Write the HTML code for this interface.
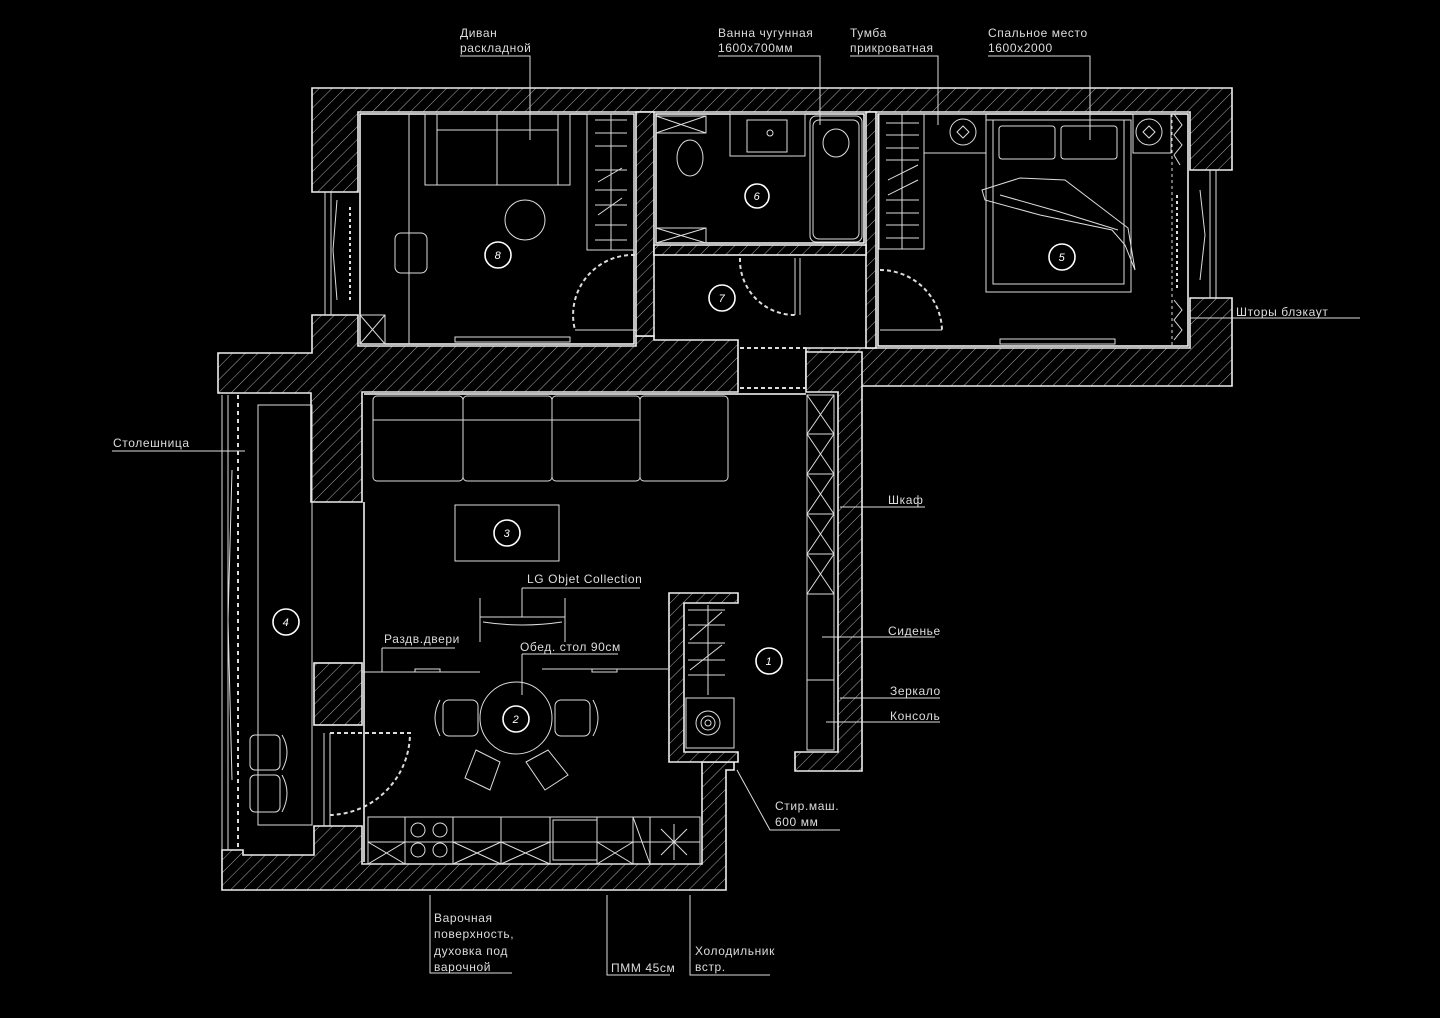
<!DOCTYPE html>
<html><head><meta charset="utf-8"><style>
html,body{margin:0;padding:0;background:#000;}
svg{display:block}
text{font-family:"Liberation Sans","DejaVu Sans",sans-serif;font-size:12px;fill:#ddd;letter-spacing:0.6px}
.n{font-size:11px;font-style:italic;fill:#fff;text-anchor:middle}
</style></head><body>
<svg width="1440" height="1018" viewBox="0 0 1440 1018" xmlns="http://www.w3.org/2000/svg">
<defs>
<pattern id="h" width="9" height="9" patternUnits="userSpaceOnUse" patternTransform="rotate(45)">
<rect width="9" height="9" fill="#000"/><line x1="0" y1="0" x2="0" y2="9" stroke="#aaa" stroke-width="1"/>
</pattern>
</defs>
<rect width="1440" height="1018" fill="#000"/>
<g fill="url(#h)" stroke="#eee" stroke-width="1.6">
<path d="M312,88 H1232 V170 H1190 V112 H358 V192 H312 Z"/>
<path d="M1190,298 H1232 V386 H806 V348 H1190 Z"/>
<path d="M312,315 H358 V346 H636 V336 H654 V340 H738 V392 H362 V502 H311 V393 H218 V353 H312 Z"/>
<rect x="636" y="112" width="18" height="224"/>
<rect x="866" y="112" width="10" height="236"/>
<rect x="654" y="245" width="212" height="10"/>
<path d="M806,352 H862 V771 H795 V752 H838 V392 H806 Z"/>
<rect x="314" y="663" width="48" height="62"/>
<path d="M222,850 H243 V855 H314 V826 H362 V864 H702 V762 H734 V770 H726 V890 H222 Z"/>
<path d="M669,593 H738 V603 H684 V752 H738 V762 H669 Z"/>
</g>
<g fill="none" stroke="#ddd" stroke-width="1">
<rect x="360" y="114" width="274" height="230" stroke="#fff" stroke-width="1.5"/>
<rect x="656" y="114" width="208" height="129" stroke="#fff" stroke-width="1.5"/>
<rect x="878" y="114" width="310" height="232" stroke="#fff" stroke-width="1.5"/>
<path d="M364,502 V862 M364,394 H806" stroke="#fff" stroke-width="1.5"/>
<path d="M325,192 V315 M331,192 V315 M337,200 L333,250 L337,300"/>
<path d="M350,207 V300" stroke-dasharray="3,3" stroke-width="2"/>
<path d="M1210,170 V298 M1216,170 V298 M1200,190 L1205,235 L1200,280"/>
<path d="M1177,195 V290" stroke-dasharray="3,3" stroke-width="2"/>
<path d="M222,395 V850 M228,395 V850 M232,470 L228,620 L232,780"/>
<path d="M238,395 V850" stroke-dasharray="4,4" stroke-width="2"/>
<line x1="409" y1="114" x2="409" y2="344"/>
<rect x="425" y="114" width="145" height="71"/>
<line x1="437" y1="130" x2="558" y2="130"/><line x1="437" y1="114" x2="437" y2="185"/><line x1="558" y1="114" x2="558" y2="185"/><line x1="497" y1="114" x2="497" y2="185"/>
<circle cx="525" cy="220" r="20"/>
<rect x="395" y="233" width="32" height="40" rx="6"/>
<rect x="587" y="114" width="47" height="136"/>
<path d="M595,120 H627 M595,133 H627 M595,146 H627 M595,170 H627 M595,190 H627 M595,205 H627 M595,225 H627 M595,240 H627 M598,182 L622,168 M598,215 L622,198 M611,114 V250"/>
<rect x="360" y="315" width="25" height="29"/><path d="M360,315 L385,344 M385,315 L360,344"/>
<rect x="455" y="337" width="115" height="5"/>
<path d="M635,255 A60,60 0 0,0 575,330" stroke-dasharray="4,3" stroke-width="2"/>
<path d="M575,330 H636"/>
<rect x="656" y="116" width="50" height="17"/><path d="M656,116 L706,133 M706,116 L656,133"/>
<rect x="656" y="228" width="50" height="15"/><path d="M656,228 L706,243 M706,228 L656,243"/>
<ellipse cx="690" cy="158" rx="13" ry="18"/>
<rect x="730" y="114" width="75" height="42"/><rect x="747" y="120" width="40" height="32"/><circle cx="770" cy="133" r="3"/>
<rect x="810" y="116" width="52" height="126" rx="6"/><rect x="813" y="120" width="46" height="119" rx="6"/>
<ellipse cx="836" cy="143" rx="13" ry="14"/>
<path d="M740,258 A55,55 0 0,0 795,315" stroke-dasharray="4,3" stroke-width="2"/>
<path d="M795,258 V315 M800,258 V315"/>
<path d="M654,258 V336" stroke-dasharray="3,3"/>
<path d="M740,348 H806 M740,388 H806" stroke-dasharray="4,3" stroke-width="2"/>
<rect x="879" y="114" width="45" height="135"/>
<path d="M886,123 H919 M886,135 H919 M886,148 H919 M886,160 H919 M886,200 H919 M886,213 H919 M886,225 H919 M886,238 H919 M888,180 L918,165 M888,195 L918,180 M902,114 V249"/>
<rect x="924" y="114" width="62" height="39"/><circle cx="963" cy="132" r="13"/><path d="M963,126 L969,132 L963,138 L957,132 Z"/>
<rect x="1133" y="114" width="38" height="39"/><circle cx="1149" cy="132" r="13"/><path d="M1149,126 L1155,132 L1149,138 L1143,132 Z"/>
<rect x="986" y="120" width="145" height="172"/><rect x="993" y="120" width="131" height="164"/>
<rect x="999" y="126" width="56" height="33" rx="3"/><rect x="1061" y="126" width="56" height="33" rx="3"/>
<path d="M982,190 L1020,178 L1065,180 L1128,228 L1135,270 L1125,245 L1112,230 L1040,215 L985,200 Z"/>
<path d="M1000,195 L1060,212 L1118,230"/>
<path d="M1174,114 L1182,125 L1174,135 L1182,145 L1174,155 L1180,165 M1174,300 L1182,310 L1174,320 L1182,330 L1174,340"/>
<path d="M1172,114 V346" stroke-dasharray="3,3"/>
<rect x="1000" y="339" width="115" height="5"/>
<path d="M880,270 A62,62 0 0,1 942,330" stroke-dasharray="4,3" stroke-width="2"/><path d="M880,330 H942"/>
<rect x="373" y="396" width="90" height="85" rx="4"/><rect x="463" y="396" width="89" height="85" rx="4"/><rect x="552" y="396" width="88" height="85" rx="4"/><rect x="640" y="396" width="88" height="85" rx="4"/>
<path d="M373,420 H640"/>
<rect x="455" y="505" width="104" height="56"/>
<path d="M480,598 V642 M565,598 V642 M480,617 H565 M483,622 Q522,628 562,622"/>
<rect x="807" y="395" width="27" height="355"/>
<path d="M807,434 H834 M807,474 H834 M807,514 H834 M807,554 H834 M807,594 H834 M807,680 H834 M807,395 L834,434 M834,395 L807,434 M807,434 L834,474 M834,434 L807,474 M807,474 L834,514 M834,474 L807,514 M807,514 L834,554 M834,514 L807,554 M807,554 L834,594 M834,554 L807,594"/>
<path d="M688,610 H725 M688,625 H725 M688,643 H725 M688,660 H725 M688,675 H725 M708,605 V695 M690,640 L722,612 M690,670 L722,645"/>
<rect x="686" y="698" width="48" height="50"/><circle cx="708" cy="723" r="12"/><circle cx="708" cy="723" r="7"/><circle cx="708" cy="723" r="3"/>
<path d="M362,672 H480 M542,669 H668"/>
<rect x="415" y="669" width="25" height="3"/><rect x="592" y="669" width="25" height="3"/>
<circle cx="516" cy="718" r="36"/>
<rect x="443" y="700" width="35" height="36" rx="6"/><path d="M440,700 Q430,718 440,736"/>
<rect x="555" y="700" width="35" height="36" rx="6"/><path d="M593,700 Q603,718 593,736"/>
<path d="M476,750 L500,762 L490,790 L465,778 Z M526,762 L548,750 L568,775 L545,790 Z"/>
<path d="M330,733 H410 A82,82 0 0,1 330,815" stroke-dasharray="4,3" stroke-width="2"/>
<path d="M324,733 V826 M330,733 V826"/>
<rect x="258" y="405" width="54" height="420"/>
<rect x="250" y="735" width="30" height="35" rx="5"/><rect x="250" y="775" width="30" height="37" rx="5"/>
<path d="M282,735 Q292,752 282,770 M282,775 Q292,793 282,812"/>
<rect x="368" y="817" width="332" height="47"/>
<path d="M368,842 H700 M405,817 V864 M453,817 V864 M501,817 V864 M550,817 V864 M597,817 V864 M633,817 V864 M650,817 V864"/>
<path d="M368,842 L405,864 M405,842 L368,864 M453,842 L501,864 M501,842 L453,864 M501,842 L550,864 M550,842 L501,864 M597,842 L633,864 M633,842 L597,864 M633,817 L650,864"/>
<circle cx="418" cy="830" r="7"/><circle cx="440" cy="830" r="7"/><circle cx="418" cy="850" r="7"/><circle cx="440" cy="850" r="7"/>
<rect x="553" y="820" width="44" height="40"/>
<path d="M674,824 V860 M656,842 H692 M661,829 L687,855 M687,829 L661,855"/>
<path d="M460,56 H530 V140 M718,56 H820 V125 M850,56 H938 V125 M988,56 H1090 V140 M1190,318 H1360"/>
<path d="M112,451 H245 M840,507 H925 M822,637 H935 M840,698 H940 M826,722 H940"/>
<path d="M737,770 L770,830 H840"/>
<path d="M382,648 H455 M382,648 V672 M522,654 H618 M522,654 V695 M522,588 H640 M522,588 V617"/>
<path d="M430,895 V973 H512 M607,895 V975 H670 M690,895 V975 H770"/>
</g>
<g fill="none" stroke="#fff" stroke-width="1.6">
<circle cx="498" cy="255" r="13"/><circle cx="757" cy="196" r="12"/><circle cx="722" cy="298" r="13"/>
<circle cx="1062" cy="257" r="13"/><circle cx="507" cy="533" r="13"/><circle cx="286" cy="622" r="13"/>
<circle cx="516" cy="719" r="13"/><circle cx="769" cy="661" r="13"/>
</g>
<text class="n" x="498" y="259">8</text><text class="n" x="757" y="200">6</text><text class="n" x="722" y="302">7</text>
<text class="n" x="1062" y="261">5</text><text class="n" x="507" y="537">3</text><text class="n" x="286" y="626">4</text>
<text class="n" x="516" y="723">2</text><text class="n" x="769" y="665">1</text>
<text x="460" y="37">Диван</text><text x="460" y="52">раскладной</text>
<text x="718" y="37">Ванна чугунная</text><text x="718" y="52">1600х700мм</text>
<text x="850" y="37">Тумба</text><text x="850" y="52">прикроватная</text>
<text x="988" y="37">Спальное место</text><text x="988" y="52">1600х2000</text>
<text x="1236" y="316">Шторы блэкаут</text>
<text x="113" y="447">Столешница</text>
<text x="888" y="504">Шкаф</text>
<text x="888" y="635">Сиденье</text>
<text x="890" y="695">Зеркало</text>
<text x="890" y="720">Консоль</text>
<text x="527" y="583">LG Objet Collection</text>
<text x="384" y="643">Раздв.двери</text>
<text x="520" y="651">Обед. стол 90см</text>
<text x="775" y="810">Стир.маш.</text><text x="775" y="826">600 мм</text>
<text x="434" y="922">Варочная</text><text x="434" y="938">поверхность,</text><text x="434" y="955">духовка под</text><text x="434" y="971">варочной</text>
<text x="611" y="972">ПММ 45см</text>
<text x="695" y="955">Холодильник</text><text x="695" y="971">встр.</text>
</svg>
</body></html>
